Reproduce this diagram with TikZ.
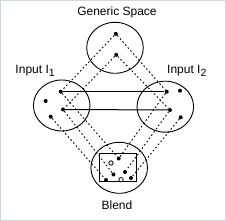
\documentclass[tikz,border=0pt]{standalone}
\usepackage{fontspec}
\setmainfont{Liberation Sans}
\usetikzlibrary{shapes.geometric}
\definecolor{framec}{RGB}{206,214,224}
\tikzset{
  space/.style={ellipse, draw, line width=0.9pt, inner sep=0, minimum width=56.6pt, minimum height=51pt},
  dot/.style={circle, fill=black, inner sep=0, minimum size=4pt},
  odot/.style={circle, draw=black, fill=white, line width=0.8pt, inner sep=0, minimum size=4.4pt},
  map/.style={line width=0.9pt, dash pattern=on 1.6pt off 2.4pt},
  link/.style={line width=1pt},
  lbl/.style={font=\fontsize{12}{14}\selectfont, inner sep=0}
}
\newcommand{\lowsub}[1]{\raisebox{-3pt}{\fontsize{10.5}{10.5}\selectfont #1}}
\begin{document}
\begin{tikzpicture}[x=1pt, y=-1pt]
\useasboundingbox (0,0) rectangle (226,221);
\draw[framec, line width=1.4pt] (0.7,0.7) rectangle (225.3,220.3);

% spaces
\node[space] (G) at (115,47.8) {};
\node[space] (I1) at (61.7,105.5) {};
\node[space] (I2) at (165.3,106.7) {};
\node[space] (B) at (119.2,167.8) {};
\draw[line width=1pt] (99.3,153.3) rectangle (136.7,181.7);

% labels
\node[lbl, anchor=base] (gl) at (117,16) {Generic Space};
\node[lbl, anchor=base west] (l1) at (15.3,73.5) {Input I\lowsub{1}};
\node[lbl, anchor=base west] (l2) at (167,73.5) {Input I\lowsub{2}};
\node[lbl, anchor=base] (bl) at (117,209.5) {Blend};

% generic dots
\node[dot] (g1) at (115.8,33.8) {};
\node[dot] (g2) at (116.2,54.8) {};
% input 1 dots
\node[dot] (a1) at (60.7,91.7) {};
\node[dot] (a2) at (45.7,101) {};
\node[dot] (a3) at (63,109.5) {};
\node[dot] (a4) at (50.7,116.7) {};
% input 2 dots
\node[dot] (b1) at (166.7,91.7) {};
\node[dot] (b2) at (180,90.7) {};
\node[dot] (b3) at (170,110) {};
\node[dot] (b4) at (180.7,117.3) {};
% blend dots
\node[dot] (c1) at (118.7,158.5) {};
\node[odot] (o1) at (111,163) {};
\node[dot] (c2) at (113.5,174.5) {};
\node[dot] (c3) at (125,172) {};
\node[dot] (c4) at (106,180) {};
\node[odot] (o2) at (121,179.7) {};
\node[dot] (c5) at (131,178) {};

% counterpart links
\draw[link] (a1) -- (b1);
\draw[link] (a3) -- (b3);

% mappings
\draw[map] (g1) -- (a1);
\draw[map] (g1) -- (b1);
\draw[map] (g2) -- (a3);
\draw[map] (g2) -- (b3);
\draw[map] (a1) -- (c1);
\draw[map] (b1) -- (c1);
\draw[map] (a3) -- (c2);
\draw[map] (b3) -- (c3);
\draw[map] (a4) -- (c4);
\draw[map] (b4) -- (c5);
\end{tikzpicture}
\end{document}
